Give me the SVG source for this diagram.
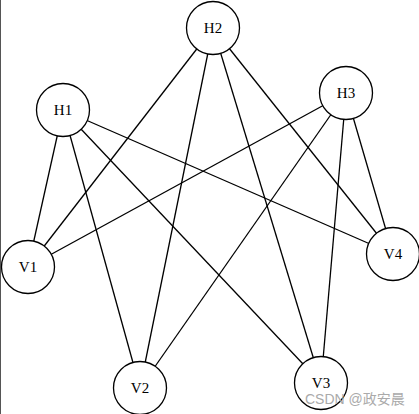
<svg xmlns="http://www.w3.org/2000/svg" width="419" height="414" viewBox="0 0 419 414">
<style>
.e{stroke:#000;stroke-width:1.3;fill:none}
.n circle{fill:#fff;stroke:#000;stroke-width:1.3}
.n text{font-family:"Liberation Serif",serif;font-size:15px;text-anchor:middle;dominant-baseline:central;fill:#000}
.wm{font-family:"Liberation Sans","Noto Sans CJK SC",sans-serif;font-size:14px;fill:#aaa}
</style>
<rect width="419" height="414" fill="#fff"/>
<line x1="0.5" y1="0" x2="0.5" y2="414" stroke="#555" stroke-width="1"/>
<g id="edges">
<line class="e" x1="63" y1="110" x2="28" y2="267"/>
<line class="e" x1="63" y1="110" x2="140" y2="388"/>
<line class="e" x1="63" y1="110" x2="321" y2="383"/>
<line class="e" x1="63" y1="110" x2="393" y2="254"/>
<line class="e" x1="213" y1="28" x2="28" y2="267"/>
<line class="e" x1="213" y1="28" x2="140" y2="388"/>
<line class="e" x1="213" y1="28" x2="321" y2="383"/>
<line class="e" x1="213" y1="28" x2="393" y2="254"/>
<line class="e" x1="346" y1="93" x2="28" y2="267"/>
<line class="e" x1="346" y1="93" x2="140" y2="388"/>
<line class="e" x1="346" y1="93" x2="321" y2="383"/>
<line class="e" x1="346" y1="93" x2="393" y2="254"/>
</g>
<g id="H1" class="n"><circle cx="63" cy="110" r="26.5"/><text x="63" y="110">H1</text></g>
<g id="H2" class="n"><circle cx="213" cy="28" r="26.5"/><text x="213" y="28">H2</text></g>
<g id="H3" class="n"><circle cx="346" cy="93" r="26.5"/><text x="346" y="93">H3</text></g>
<g id="V1" class="n"><circle cx="28" cy="267" r="26.5"/><text x="28" y="267">V1</text></g>
<g id="V2" class="n"><circle cx="140" cy="388" r="26.5"/><text x="140" y="388">V2</text></g>
<g id="V3" class="n"><circle cx="321" cy="383" r="26.5"/><text x="321" y="383">V3</text></g>
<g id="V4" class="n"><circle cx="393" cy="254" r="26.5"/><text x="393" y="254">V4</text></g>
<text class="wm" x="305" y="404">CSDN @政安晨</text>
</svg>
